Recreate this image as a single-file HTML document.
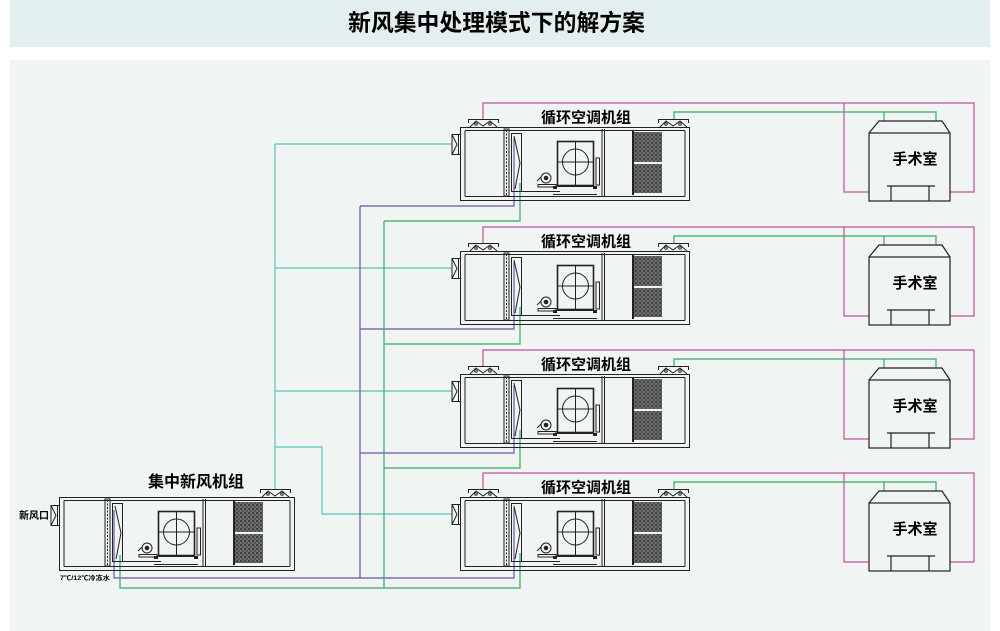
<!DOCTYPE html>
<html><head><meta charset="utf-8">
<style>
html,body{margin:0;padding:0;background:#fff;width:1000px;height:631px;overflow:hidden}
svg{display:block}
.t{font-family:"Liberation Sans","Noto Sans CJK SC",sans-serif;font-weight:bold;fill:#000}
</style></head><body>
<svg width="1000" height="631" viewBox="0 0 1000 631" xmlns="http://www.w3.org/2000/svg">
<defs>
<pattern id="hp" width="4" height="4" patternUnits="userSpaceOnUse">
<rect width="4" height="4" fill="#3a3a3a"/>
<circle cx="2" cy="2" r="1.3" fill="none" stroke="#a0a0a0" stroke-width="0.6"/>
</pattern>
<g id="core" fill="none" stroke="#222" stroke-width="1">
<rect x="44" y="2" width="5" height="67"/>
<line x1="46.5" y1="3" x2="46.5" y2="68" stroke-dasharray="2 1.5"/>
<rect x="51.5" y="6.5" width="10" height="58"/>
<path d="M54,9 L60,36 L55,62"/>
<path d="M51,64.5 H100"/>
<circle cx="86" cy="51" r="5"/>
<circle cx="86" cy="51" r="1.8" fill="#222"/>
<path d="M81,50 L77,54 M78,57.5 H96 V60 H78 Z"/>
<rect x="97.5" y="14.5" width="36" height="44" stroke-width="1.6"/>
<path d="M115.5,14.5 V58.5 M97.5,35 H133.5"/>
<circle cx="115.5" cy="35" r="13"/>
<path d="M136,31 H139.5 V58 H136 Z"/>
<path d="M93,59.5 H137 M93,67.5 H137"/>
<rect x="93" y="59" width="4" height="3" fill="#222" stroke="none"/>
<rect x="133" y="59" width="4" height="3" fill="#222" stroke="none"/>
<path d="M142,2 V69 M144.5,2 V69"/>
<path d="M173,3 V68" stroke-width="2"/>
<rect x="174" y="5" width="28" height="30" fill="url(#hp)" stroke="none"/>
<rect x="174" y="37" width="28" height="29" fill="url(#hp)" stroke="none"/>
</g>
<g id="tf" fill="none" stroke="#222" stroke-width="1">
<path d="M0,-7.5 H31 M0.5,-7.5 V-4 M30.5,-7.5 V-4 M2,0 L8,-6 L15,-1 L22,-6 L29,0"/>
<circle cx="8" cy="-3" r="1.3"/><circle cx="22" cy="-3" r="1.3"/>
</g>
<g id="dp" fill="none" stroke="#222" stroke-width="1">
<path d="M0,0.5 H-8 V20.5 H0 M-8,0.5 L-3,10.5 L-8,20.5 M-1.5,1 V20"/>
</g>
<g id="ahu">
<rect x="0.5" y="0.5" width="229" height="73" fill="none" stroke="#222"/>
<path d="M5,3.5 H225 M5,69.5 H225 M5,3.5 V69.5 M225,3.5 V69.5" fill="none" stroke="#222"/>
<use href="#core"/>
<use href="#tf" x="8"/>
<use href="#tf" x="198"/>
<use href="#dp" y="7"/>
</g>
<g id="room" fill="none" stroke="#222" stroke-width="1.2">
<path d="M869,6 L879,-6 H942 L950,6"/>
<rect x="869" y="6" width="81" height="68"/>
<path d="M887,59 H935 M891,59 V74 M929,59 V74"/>
</g>
</defs>

<rect x="10" y="0" width="980" height="47" fill="#e3eeef"/>
<rect x="10" y="60" width="980" height="571" fill="#f0f4f3"/>
<text class="t" x="348" y="30.5" font-size="23" textLength="297" lengthAdjust="spacingAndGlyphs">新风集中处理模式下的解方案</text>

<!-- pipes -->
<g fill="none" stroke-width="1.2">
<!-- teal -->
<path stroke="#56c3b8" d="M275,144 V489 M275,144 H452 M275,268 H452 M275,391 H452 M275,447 H322 V514 H452"/>
<!-- purple -->
<path stroke="#6a55a6" d="M360,206 V578 M514,138 V206 H360 M514,262 V329 H360 M514,385 V453 H360 M514,508 V578 H114 V510"/>
<!-- green -->
<path stroke="#37a866" d="M384,221 V588 M520,183 V221 H384 M520,307 V344 H384 M520,430 V468 H384 M520,553 V588 H120 V555"/>
<!-- pink & green to rooms -->
<path stroke="#c0509a" d="M483,119 V103 H974 V192 H950 M844,103 V192 H869"/>
<path stroke="#37a866" d="M674,120 V112 H936 V121 M884,112 V121"/>
<path stroke="#c0509a" d="M483,243 V227 H974 V316 H950 M844,227 V316 H869"/>
<path stroke="#37a866" d="M674,244 V236 H936 V245 M884,236 V245"/>
<path stroke="#c0509a" d="M483,366 V350 H974 V439 H950 M844,350 V439 H869"/>
<path stroke="#37a866" d="M674,367 V359 H936 V368 M884,359 V368"/>
<path stroke="#c0509a" d="M483,489 V473 H974 V562 H950 M844,473 V562 H869"/>
<path stroke="#37a866" d="M674,490 V482 H936 V491 M884,482 V491"/>
</g>

<!-- AHUs -->
<use href="#ahu" x="460" y="127"/>
<use href="#ahu" x="460" y="251"/>
<use href="#ahu" x="460" y="374"/>
<use href="#ahu" x="460" y="497"/>

<text class="t" x="586" y="122.5" font-size="15" text-anchor="middle">循环空调机组</text>
<text class="t" x="586" y="246.5" font-size="15" text-anchor="middle">循环空调机组</text>
<text class="t" x="586" y="369.5" font-size="15" text-anchor="middle">循环空调机组</text>
<text class="t" x="586" y="492.5" font-size="15" text-anchor="middle">循环空调机组</text>

<!-- rooms -->
<use href="#room" y="127"/>
<use href="#room" y="251"/>
<use href="#room" y="374"/>
<use href="#room" y="497"/>
<text class="t" x="915" y="164" font-size="15" text-anchor="middle">手术室</text>
<text class="t" x="915" y="288" font-size="15" text-anchor="middle">手术室</text>
<text class="t" x="915" y="411" font-size="15" text-anchor="middle">手术室</text>
<text class="t" x="915" y="534" font-size="15" text-anchor="middle">手术室</text>

<!-- fresh air unit -->
<g transform="translate(59,497)">
<rect x="0.5" y="0.5" width="235" height="73" fill="none" stroke="#222"/>
<path d="M5,3.5 H231 M5,69.5 H231 M5,3.5 V69.5 M231,3.5 V69.5" fill="none" stroke="#222"/>
<use href="#core" x="2"/>
<use href="#tf" x="201"/>
<use href="#dp" y="8"/>
</g>
<text class="t" x="196" y="487" font-size="16" text-anchor="middle">集中新风机组</text>
<text class="t" x="19" y="519" font-size="10">新风口</text>
<text class="t" x="60" y="580" font-size="6.5" textLength="50" lengthAdjust="spacingAndGlyphs">7℃/12℃冷冻水</text>
</svg>
</body></html>
